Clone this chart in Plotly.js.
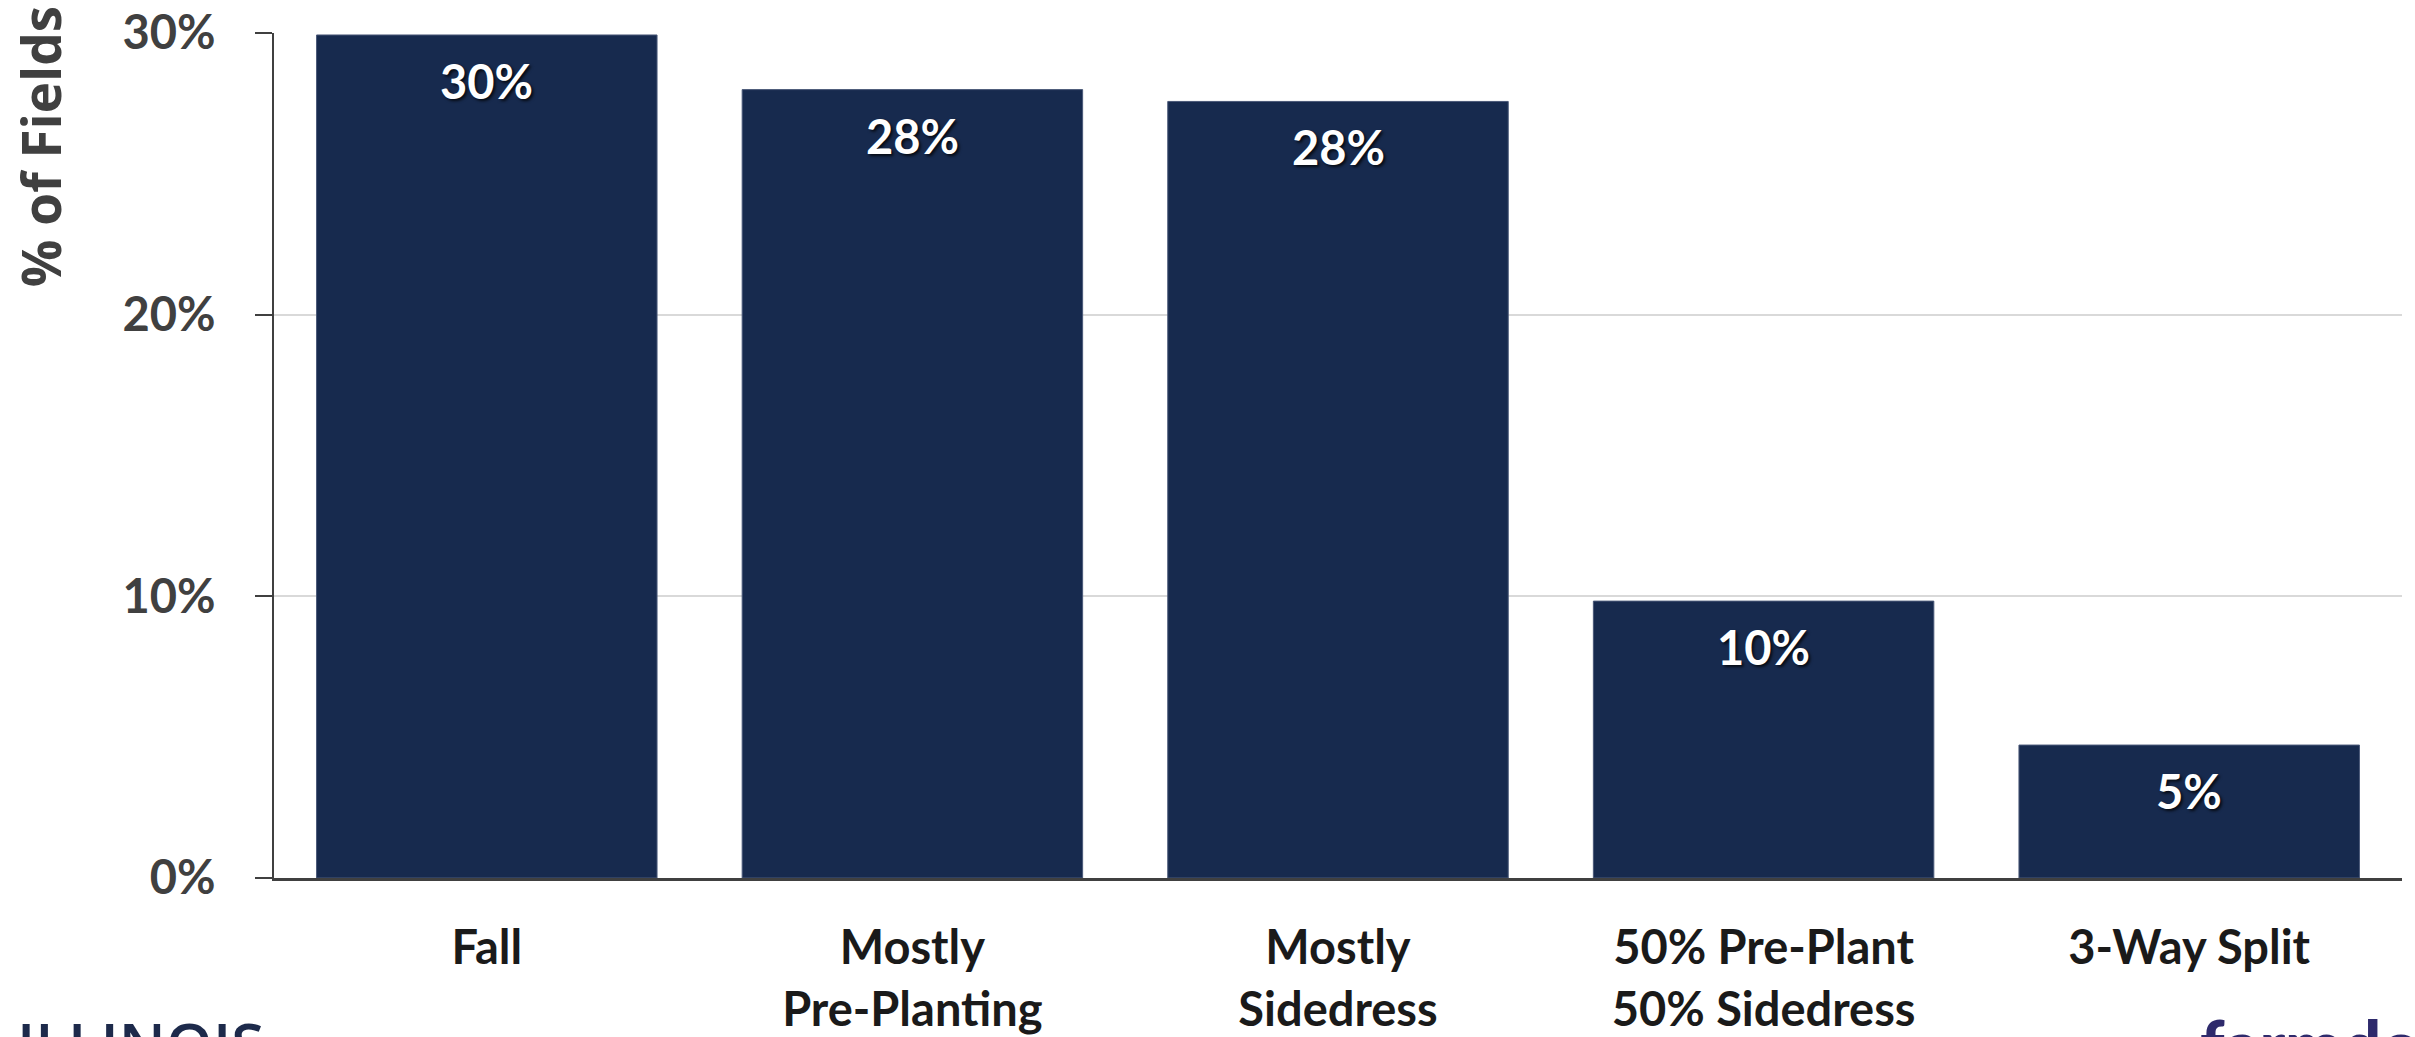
<!DOCTYPE html>
<html>
<head>
<meta charset="utf-8">
<script src="https://cdn.plot.ly/plotly-3.0.1.min.js"></script>
<style>
  html, body { margin: 0; padding: 0; background: #ffffff; }
  #chart { width: 2415px; height: 1037px; }
</style>
</head>
<body>
<div id="chart"></div>
<script>
// ---- Data ----
const categories = ["Fall", "Mostly<br>Pre-Planting", "Mostly<br>Sidedress", "50% Pre-Plant<br>50% Sidedress", "3-Way Split"];
const shareOfFields = [29.93, 27.99, 27.57, 9.83, 4.72];
const valueLabels = ["30%", "28%", "28%", "10%", "5%"];
const yTickValues = [0, 10, 20, 30];
const yTickLabels = ["0%", "10%", "20%", "30%"];
const yAxisTitle = "% of Fields";
const leftLogoText = "ILLINOIS";
const rightLogoText = "farmdoc";

// ---- Styles ----
const barColor = "#172a4e";
const axisColor = "#404040";
const labelFont = "Lato, 'Open Sans', sans-serif";

const trace = {
  type: "bar",
  x: categories,
  y: shareOfFields,
  marker: { color: barColor, line: { width: 1, color: "#4a5878" } },
  hoverinfo: "skip"
};

const annotations = categories.map((c, i) => ({
  x: c,
  y: shareOfFields[i],
  xref: "x",
  yref: "y",
  text: valueLabels[i],
  showarrow: false,
  xanchor: "center",
  yanchor: "top",
  yshift: -16,
  font: { family: labelFont, size: 47, color: "#ffffff", weight: 700,
          shadow: "2px 2px 3px rgba(0,0,0,0.75)" }
}));

// y-axis title (placed near the top, as in the reference)
annotations.push({
  xref: "paper", yref: "paper",
  x: -0.110, y: 0.866,
  xanchor: "center", yanchor: "middle",
  text: yAxisTitle,
  textangle: -90,
  showarrow: false,
  font: { family: "'Open Sans', sans-serif", size: 53, color: axisColor, weight: 700 }
});

// logos (cut off by the bottom edge, as in the reference)
annotations.push({
  xref: "paper", yref: "paper",
  x: -0.1217, y: -0.146,
  xanchor: "left", yanchor: "top",
  text: leftLogoText,
  showarrow: false,
  font: { family: "'Open Sans', sans-serif", size: 60, color: "#1d2a4b", weight: 600 }
});
annotations.push({
  xref: "paper", yref: "paper",
  x: (2198 - 274) / 2128, y: -0.146,
  xanchor: "left", yanchor: "top",
  text: rightLogoText,
  showarrow: false,
  font: { family: labelFont, size: 68, color: "#2e2a6c", weight: 900 }
});

const layout = {
  width: 2415,
  height: 1037,
  margin: { l: 274, r: 13, t: 33, b: 159, pad: 0 },
  paper_bgcolor: "#ffffff",
  plot_bgcolor: "#ffffff",
  showlegend: false,
  bargap: 0.2,
  hovermode: false,
  xaxis: {
    type: "category",
    showline: true,
    linecolor: axisColor,
    linewidth: 3,
    ticks: "",
    showgrid: false,
    zeroline: false,
    tickfont: { family: labelFont, size: 47, color: "#1a1a1a", weight: 700 },
    ticklabelstandoff: 27,
    fixedrange: true
  },
  yaxis: {
    range: [0, 30],
    tickvals: yTickValues,
    ticktext: yTickLabels,
    showline: true,
    linecolor: axisColor,
    linewidth: 2,
    ticks: "outside",
    ticklen: 17,
    tickwidth: 2,
    tickcolor: axisColor,
    showgrid: true,
    gridcolor: "#d9d9d9",
    gridwidth: 2,
    zeroline: false,
    tickfont: { family: labelFont, size: 47, color: axisColor, weight: 700 },
    ticklabelstandoff: 30,
    fixedrange: true
  },
  annotations: annotations
};

Plotly.newPlot("chart", [trace], layout, { displayModeBar: false, staticPlot: true });
</script>
</body>
</html>
